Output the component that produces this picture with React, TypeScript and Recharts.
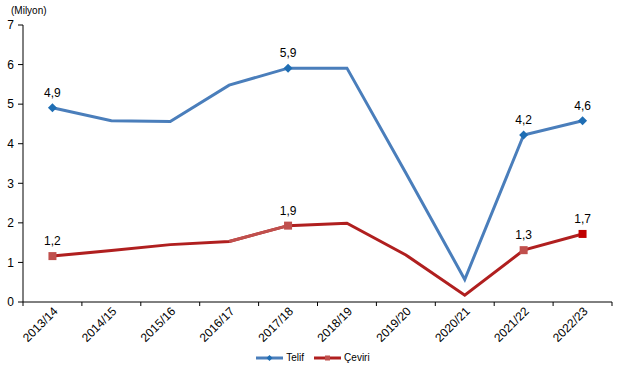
import React from 'react';
import { LineChart, Line, XAxis, YAxis, Legend } from 'recharts';

const categories = ['2013/14', '2014/15', '2015/16', '2016/17', '2017/18', '2018/19', '2019/20', '2020/21', '2021/22', '2022/23'];
const telif = [4.91, 4.58, 4.56, 5.48, 5.91, 5.91, 3.26, 0.57, 4.22, 4.58];
const ceviri = [1.16, 1.3, 1.45, 1.53, 1.93, 1.99, 1.19, 0.17, 1.31, 1.72];
const labeledIdx = [0, 4, 8, 9];
const yTicks = [0, 1, 2, 3, 4, 5, 6, 7];

const TELIF_LINE = '#4A7EBB';
const TELIF_MARK = '#1F6EB4';
const CEV_LINE = '#B01F1F';
const CEV_LIGHT = '#C0504D';
const CEV_LAST = '#C00000';

const data = categories.map((c, i) => ({
  name: c,
  telif: telif[i],
  ceviri: ceviri[i],
  cevHi: i === 3 || i === 4 ? ceviri[i] : null,
}));

const FONT = '"Liberation Sans", Arial, sans-serif';
const PLOT_LEFT = 23;
const PLOT_RIGHT = 612;
const BAND = (PLOT_RIGHT - PLOT_LEFT) / categories.length;

const fmt = (v: number) => v.toFixed(1).replace('.', ',');

const XTick = (props: any) => {
  const { x, y, payload, index } = props;
  return (
    <g>
      <line x1={x - BAND / 2} y1={y} x2={x - BAND / 2} y2={y + 4} stroke="#000" />
      {index === categories.length - 1 && (
        <line x1={x + BAND / 2} y1={y} x2={x + BAND / 2} y2={y + 4} stroke="#000" />
      )}
      <text
        x={x + 6}
        y={y + 10}
        transform={`rotate(-45 ${x + 6} ${y + 10})`}
        textAnchor="end"
        fontSize={12}
        fontFamily={FONT}
        fill="#000"
      >
        {payload.value}
      </text>
    </g>
  );
};

const TelifDot = (props: any) => {
  const { cx, cy, index } = props;
  if (!labeledIdx.includes(index) || cx == null) return <g key={index} />;
  const s = 4.5;
  return (
    <polygon
      key={index}
      points={`${cx},${cy - s} ${cx + s},${cy} ${cx},${cy + s} ${cx - s},${cy}`}
      fill={TELIF_MARK}
    />
  );
};

const CevDot = (props: any) => {
  const { cx, cy, index } = props;
  if (!labeledIdx.includes(index) || cx == null) return <g key={index} />;
  const s = 4;
  return (
    <rect
      key={index}
      x={cx - s}
      y={cy - s}
      width={2 * s}
      height={2 * s}
      fill={index === categories.length - 1 ? CEV_LAST : CEV_LIGHT}
    />
  );
};

const makeLabel = (arr: number[]) => (props: any) => {
  const { x, y, index } = props;
  if (!labeledIdx.includes(index)) return <g key={index} />;
  return (
    <text key={index} x={x} y={y - 11} textAnchor="middle" fontSize={12} fontFamily={FONT} fill="#000">
      {fmt(arr[index])}
    </text>
  );
};

const LegendContent = () => (
  <div style={{ display: 'flex', justifyContent: 'center', alignItems: 'center', fontFamily: FONT, fontSize: 10, color: '#000', paddingLeft: 14 }}>
    <svg width={27} height={8} style={{ marginRight: 3 }}>
      <line x1={0} y1={4} x2={27} y2={4} stroke={TELIF_LINE} strokeWidth={3} />
      <polygon points="13.5,1 16.5,4 13.5,7 10.5,4" fill={TELIF_MARK} />
    </svg>
    <span style={{ marginRight: 10 }}>Telif</span>
    <svg width={27} height={8} style={{ marginRight: 3 }}>
      <line x1={0} y1={4} x2={27} y2={4} stroke={CEV_LINE} strokeWidth={3} />
      <rect x={11} y={1.5} width={5} height={5} fill={CEV_LIGHT} />
    </svg>
    <span>Çeviri</span>
  </div>
);

export default function App() {
  return (
    <div style={{ position: 'absolute', left: 0, top: 0, background: '#fff' }}>
      <LineChart width={626} height={378} data={data} margin={{ top: 25, right: 626 - PLOT_RIGHT, left: 0, bottom: 4 }}>
        <XAxis
          dataKey="name"
          interval={0}
          tick={<XTick />}
          tickLine={false}
          tickSize={0}
          tickMargin={0}
          height={50}
          padding={{ left: BAND / 2, right: BAND / 2 }}
          axisLine={{ stroke: '#000' }}
        />
        <YAxis
          width={PLOT_LEFT}
          domain={[0, 7]}
          ticks={yTicks}
          interval={0}
          tickSize={5}
          tickMargin={4}
          axisLine={{ stroke: '#000' }}
          tickLine={{ stroke: '#000' }}
          tick={{ fontSize: 12, fontFamily: FONT, fill: '#000' }}
          label={{
            content: () => (
              <text x={11} y={14} fontSize={10} fontFamily={FONT} fill="#000">
                (Milyon)
              </text>
            ),
          }}
        />
        <Legend verticalAlign="bottom" height={22} content={<LegendContent />} />
        <Line
          dataKey="telif"
          name="Telif"
          stroke={TELIF_LINE}
          strokeWidth={3}
          dot={<TelifDot />}
          activeDot={false}
          isAnimationActive={false}
          label={makeLabel(telif)}
        />
        <Line dataKey="ceviri" name="Çeviri" stroke={CEV_LINE} strokeWidth={3} dot={false} activeDot={false} isAnimationActive={false} />
        <Line dataKey="cevHi" legendType="none" stroke={CEV_LIGHT} strokeWidth={3} dot={false} activeDot={false} isAnimationActive={false} />
        <Line
          dataKey="ceviri"
          legendType="none"
          stroke="none"
          dot={<CevDot />}
          activeDot={false}
          isAnimationActive={false}
          label={makeLabel(ceviri)}
        />
      </LineChart>
    </div>
  );
}
